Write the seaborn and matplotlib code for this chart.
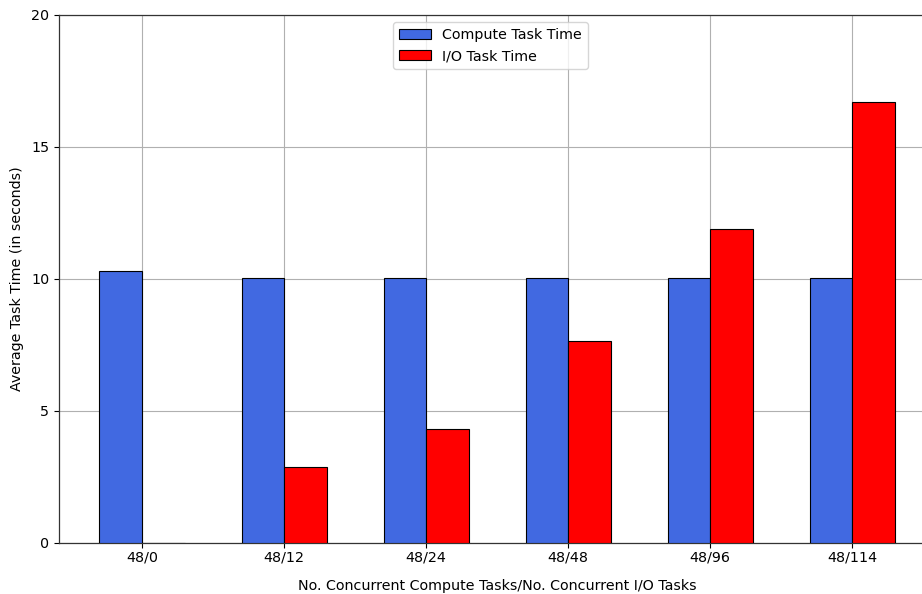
import matplotlib
matplotlib.use("Agg")
import matplotlib.pyplot as plt
import seaborn as sns
import pandas as pd

# Concurrency configurations (compute tasks / I/O tasks)
configs = ["48/0", "48/12", "48/24", "48/48", "48/96", "48/114"]
compute_time = [10.30, 10.02, 10.02, 10.02, 10.02, 10.02]
io_time = [0.0, 2.88, 4.32, 7.65, 11.88, 16.72]
series_names = ["Compute Task Time", "I/O Task Time"]
series_colors = ["#4169e1", "#ff0000"]

df = pd.DataFrame({
    "config": configs * 2,
    "time": compute_time + io_time,
    "series": [series_names[0]] * len(configs) + [series_names[1]] * len(configs),
})

sns.set_style("ticks")
plt.rcParams["font.family"] = ["DejaVu Sans"]
plt.rcParams["text.color"] = "black"
plt.rcParams["axes.labelcolor"] = "black"

fig = plt.figure(figsize=(9.22, 5.94), dpi=100)
ax = fig.add_axes([59 / 922, 1 - 543 / 594, (936 - 59) / 922, (543 - 15) / 594])

sns.barplot(
    data=df, x="config", y="time", hue="series",
    palette=series_colors, width=0.6, edgecolor="black", linewidth=0.8,
    saturation=1, errorbar=None, ax=ax, zorder=3,
)

ax.set_xlim(-0.585, 5.59)
ax.set_ylim(0, 20)
ax.set_yticks([0, 5, 10, 15, 20])
ax.grid(True, color="#b0b0b0", linewidth=0.8, zorder=0)
ax.set_axisbelow(True)

for side in ["left", "bottom", "top", "right"]:
    ax.spines[side].set_color("#333333")
    ax.spines[side].set_linewidth(0.9)

fs = 10.3
ax.tick_params(axis="both", labelsize=fs, length=3.5, width=0.8, colors="black")
ax.tick_params(axis="x", pad=2)
ax.set_xlabel("No. Concurrent Compute Tasks/No. Concurrent I/O Tasks",
              fontsize=fs, labelpad=10, color="black")
ax.set_ylabel("Average Task Time (in seconds)", fontsize=fs, labelpad=5, color="black")

leg = ax.legend(loc="upper center", bbox_to_anchor=(0.492, 1.0),
                fontsize=fs, frameon=True, title=None, handlelength=2.2)
leg.get_frame().set_edgecolor("#cccccc")
for h in leg.legend_handles:
    h.set_edgecolor("black")
for t in leg.get_texts():
    t.set_color("black")

fig.savefig("out.png", dpi=100)
